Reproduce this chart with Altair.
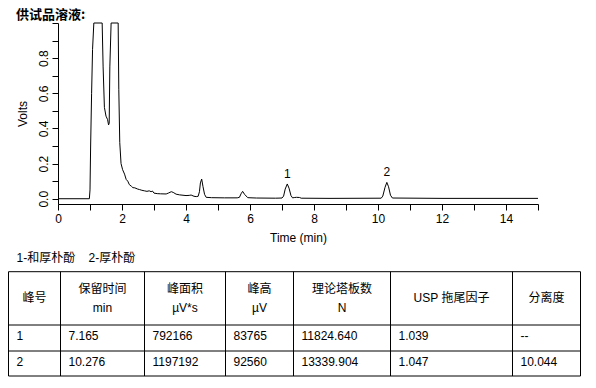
import altair as alt
import pandas as pd

# ---------------- data ----------------
chart_title = "供试品溶液:"

time_min = [0.00, 0.98, 1.00, 1.02, 1.05, 1.08, 1.12, 1.38, 1.41, 1.45, 1.50, 1.55,
            1.58, 1.60, 1.62, 1.66, 1.88, 1.90, 1.93, 1.97, 2.02, 2.08, 2.13, 2.18,
            2.23, 2.30, 2.34, 2.40, 2.49, 2.55, 2.62, 2.70, 2.78, 2.85, 2.91, 2.95,
            3.00, 3.10, 3.20, 3.38, 3.46, 3.54, 3.60, 3.69, 3.80, 4.00, 4.10, 4.16,
            4.25, 4.32, 4.38, 4.42, 4.45, 4.49, 4.53, 4.58, 4.63, 4.80, 5.20, 5.60,
            5.67, 5.72, 5.77, 5.83, 5.93, 6.20, 6.80, 7.00, 7.05, 7.10, 7.165, 7.22,
            7.28, 7.33, 7.40, 7.45, 7.55, 7.60, 8.50, 10.10, 10.15, 10.22, 10.276,
            10.33, 10.39, 10.45, 12.00, 15.00]
volts = [0.000, 0.000, 0.050, 0.300, 0.600, 0.850, 1.000, 1.000, 0.750, 0.520, 0.470, 0.450,
         0.420, 0.430, 0.750, 1.000, 1.000, 0.620, 0.320, 0.200, 0.165, 0.140, 0.110, 0.100,
         0.080, 0.070, 0.063, 0.062, 0.055, 0.052, 0.048, 0.045, 0.042, 0.045, 0.040, 0.044,
         0.032, 0.029, 0.028, 0.027, 0.033, 0.040, 0.036, 0.026, 0.022, 0.018, 0.019, 0.021,
         0.014, 0.012, 0.014, 0.040, 0.090, 0.112, 0.070, 0.025, 0.008, 0.006, 0.005, 0.005,
         0.008, 0.028, 0.042, 0.025, 0.006, 0.004, 0.003, 0.004, 0.015, 0.055, 0.084, 0.060,
         0.018, 0.005, 0.007, 0.008, 0.007, 0.003, 0.002, 0.003, 0.015, 0.065, 0.093,
         0.068, 0.020, 0.004, 0.002, 0.002]

peak_ids = ["1", "2"]
peak_rt = [7.165, 10.276]
peak_top = [0.084, 0.093]

legend_note = "1-和厚朴酚\u00a0\u00a0\u00a0\u00a02-厚朴酚"
header_line1 = ["峰号", "保留时间", "峰面积", "峰高", "理论塔板数", "USP 拖尾因子", "分离度"]
header_line2 = ["", "min", "µV*s", "µV", "N", "", ""]
col_peak = ["1", "2"]
col_rt = ["7.165", "10.276"]
col_area = ["792166", "1197192"]
col_height = ["83765", "92560"]
col_plates = ["11824.640", "13339.904"]
col_tailing = ["1.039", "1.047"]
col_resolution = ["--", "10.044"]

# ---------------- layout (pixels) ----------------
PLOT_W, PLOT_H = 480, 181
col_w = [52, 84, 81, 68, 97, 122, 68]
row_h = [53.3, 26, 25]
TABLE_X0, TABLE_Y0 = -49.5, 248.7   # table origin relative to plot area

FONT = "Liberation Sans, Noto Sans CJK SC"
CJK = "Noto Sans CJK SC"

# ---------------- chromatogram ----------------
chrom_df = pd.DataFrame({"t": time_min, "v": volts})
peaks_df = pd.DataFrame({"t": peak_rt, "v": peak_top, "lab": peak_ids})

xscale = alt.Scale(domain=[0, 15], nice=False, zero=False)
yscale = alt.Scale(domain=[-0.03, 1.0], nice=False, zero=False)

x_axis = alt.Axis(
    values=list(range(16)),
    labelExpr="datum.value % 2 == 0 ? datum.label : ''",
    title="Time (min)", grid=False, tickSize=6, labelPadding=3,
    labelFontSize=12, titleFontSize=12, titleFontWeight="normal",
    labelFont=FONT, titleFont=FONT, labelColor="black", titleColor="black",
    domainColor="black", tickColor="black", labelFlush=False, labelOverlap=False,
    titlePadding=8,
)
y_axis = alt.Axis(
    values=[round(i * 0.1, 1) for i in range(11)],
    labelExpr="datum.value < 0.9 && round(datum.value * 10) % 2 == 0 ? format(datum.value, '.1f') : ''",
    title="Volts", grid=False, tickSize=6, labelPadding=2,
    labelAngle=270, labelAlign="center", labelBaseline="bottom",
    labelFontSize=12, titleFontSize=12, titleFontWeight="normal",
    labelFont=FONT, titleFont=FONT, labelColor="black", titleColor="black",
    domainColor="black", tickColor="black", labelFlush=False, labelOverlap=False,
    titlePadding=8,
)

line = alt.Chart(chrom_df).mark_line(color="black", strokeWidth=1).encode(
    x=alt.X("t:Q", scale=xscale, axis=x_axis),
    y=alt.Y("v:Q", scale=yscale, axis=y_axis),
)
peak_labels = alt.Chart(peaks_df).mark_text(
    dy=-10, fontSize=12, font=FONT, color="black"
).encode(
    x=alt.X("t:Q", scale=xscale, axis=x_axis),
    y=alt.Y("v:Q", scale=yscale, axis=y_axis),
    text="lab:N",
)
chrom = alt.layer(line, peak_labels)

# ---------------- table ----------------
col_edges = [0]
for w in col_w:
    col_edges.append(col_edges[-1] + w)
row_edges = [0]
for h in row_h:
    row_edges.append(row_edges[-1] + h)
tw, th = col_edges[-1], row_edges[-1]

txs = alt.Scale(domain=[0, tw], range=[TABLE_X0, TABLE_X0 + tw], nice=False, zero=False)
tys = alt.Scale(domain=[0, th], range=[TABLE_Y0, TABLE_Y0 + th], nice=False, zero=False)

vlines = pd.DataFrame({"x": col_edges, "y": [0] * len(col_edges), "y2": [th] * len(col_edges)})
hlines = pd.DataFrame({"y": row_edges, "x": [0] * len(row_edges), "x2": [tw] * len(row_edges)})

vrule = alt.Chart(vlines).mark_rule(color="black", strokeWidth=1).encode(
    x=alt.X("x:Q", scale=txs, axis=None),
    y=alt.Y("y:Q", scale=tys, axis=None),
    y2="y2:Q",
)
hrule = alt.Chart(hlines).mark_rule(color="black", strokeWidth=1).encode(
    y=alt.Y("y:Q", scale=tys, axis=None),
    x=alt.X("x:Q", scale=txs, axis=None),
    x2="x2:Q",
)

head_rows = []
hdr_mid = row_h[0] / 2
for i, (a, b) in enumerate(zip(header_line1, header_line2)):
    cx = (col_edges[i] + col_edges[i + 1]) / 2
    if b:
        head_rows.append({"x": cx, "y": hdr_mid - 9.5, "text": a})
        head_rows.append({"x": cx, "y": hdr_mid + 9.5, "text": b})
    else:
        head_rows.append({"x": cx, "y": hdr_mid, "text": a})
head_df = pd.DataFrame(head_rows)

body_rows = []
columns = [col_peak, col_rt, col_area, col_height, col_plates, col_tailing, col_resolution]
for r in range(2):
    cy = (row_edges[r + 1] + row_edges[r + 2]) / 2
    for c, vals in enumerate(columns):
        body_rows.append({"x": col_edges[c] + 8, "y": cy, "text": vals[r]})
body_df = pd.DataFrame(body_rows)

note_df = pd.DataFrame({"x": [8], "y": [-13.7], "text": [legend_note]})

head_text = alt.Chart(head_df).mark_text(fontSize=12, font=FONT, color="black", align="center").encode(
    x=alt.X("x:Q", scale=txs, axis=None),
    y=alt.Y("y:Q", scale=tys, axis=None),
    text="text:N",
)
body_text = alt.Chart(body_df).mark_text(fontSize=12, font=FONT, color="black", align="left", dy=-2).encode(
    x=alt.X("x:Q", scale=txs, axis=None),
    y=alt.Y("y:Q", scale=tys, axis=None),
    text="text:N",
)
note_text = alt.Chart(note_df).mark_text(fontSize=12, font=FONT, color="black", align="left").encode(
    x=alt.X("x:Q", scale=txs, axis=None),
    y=alt.Y("y:Q", scale=tys, axis=None),
    text="text:N",
)
table = alt.layer(vrule, hrule, head_text, body_text, note_text)

chart = alt.layer(chrom, table).resolve_scale(x="independent", y="independent").properties(
    width=PLOT_W,
    height=PLOT_H,
    autosize=alt.AutoSizeParams(type="none"),
    padding={"left": 50, "top": 15, "right": 50, "bottom": 184},
    background="white",
    title=alt.TitleParams(
        chart_title, anchor="start", frame="group", dx=-42, dy=2, fontSize=13, fontWeight="bold",
        font=CJK, color="black", offset=1,
    ),
).configure_view(strokeWidth=0).configure_axis(labelOverlap=False, labelFlush=False)

chart.save("out.html", embed_options={"renderer": "svg", "actions": False})
